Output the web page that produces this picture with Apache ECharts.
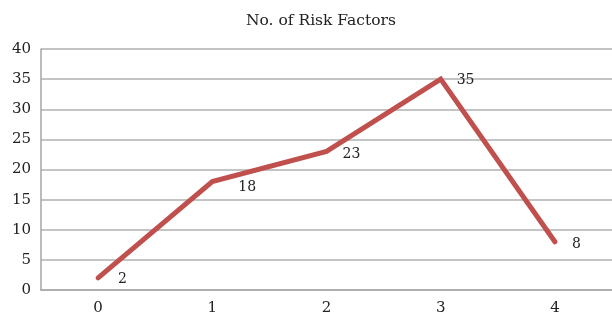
<!DOCTYPE html>
<html>
<head>
<meta charset="utf-8">
<script src="https://cdn.jsdelivr.net/npm/echarts@6/dist/echarts.min.js"></script>
<style>html,body{margin:0;padding:0;background:#fff}#c{width:612px;height:321px}</style>
</head>
<body>
<div id="c"></div>
<script>
var title = "No. of Risk Factors";
var categories = ["0", "1", "2", "3", "4"];
var values = [2, 18, 23, 35, 8];
var yTicks = { min: 0, max: 40, interval: 5 };

var chart = echarts.init(document.getElementById('c'));
var font = "'DejaVu Serif', 'Liberation Serif', serif";
// label placement (styling only): [dx, dy] from the point
var labelShift = [[21, 2], [27, 6.5], [17, 4], [17, 2.5], [18, 4]];
chart.setOption({
  animation: false,
  backgroundColor: '#fff',
  title: {
    text: title, left: 241, top: 8,
    textStyle: { fontFamily: font, fontSize: 15.5, fontWeight: 'normal', color: '#222' }
  },
  grid: { left: 41, width: 574, top: 49, height: 241 },
  xAxis: {
    type: 'category', data: categories, boundaryGap: true,
    axisLine: { lineStyle: { color: '#a6a6a6', width: 1.5 } },
    axisTick: { show: false },
    axisLabel: { fontFamily: font, fontSize: 15, color: '#222', margin: 11 }
  },
  yAxis: {
    type: 'value', min: yTicks.min, max: yTicks.max, interval: yTicks.interval,
    axisLine: { show: true, lineStyle: { color: '#a6a6a6', width: 1.5 } },
    axisTick: { show: false },
    splitLine: { lineStyle: { color: '#b0b0b0', width: 1.5 } },
    axisLabel: { fontFamily: font, fontSize: 15, color: '#222', margin: 10 }
  },
  series: [{
    type: 'line', data: values.map(function (v, i) {
      return { value: v, label: { position: labelShift[i] } };
    }),
    symbol: 'circle', symbolSize: 2, showSymbol: true,
    itemStyle: { color: '#C0504D' },
    lineStyle: { color: '#C0504D', width: 5, cap: 'round', join: 'miter' },
    label: {
      show: true, align: 'left', verticalAlign: 'middle',
      fontFamily: font, fontSize: 14, color: '#222'
    },
    labelLayout: { hideOverlap: false }
  }]
});
</script>
</body>
</html>
